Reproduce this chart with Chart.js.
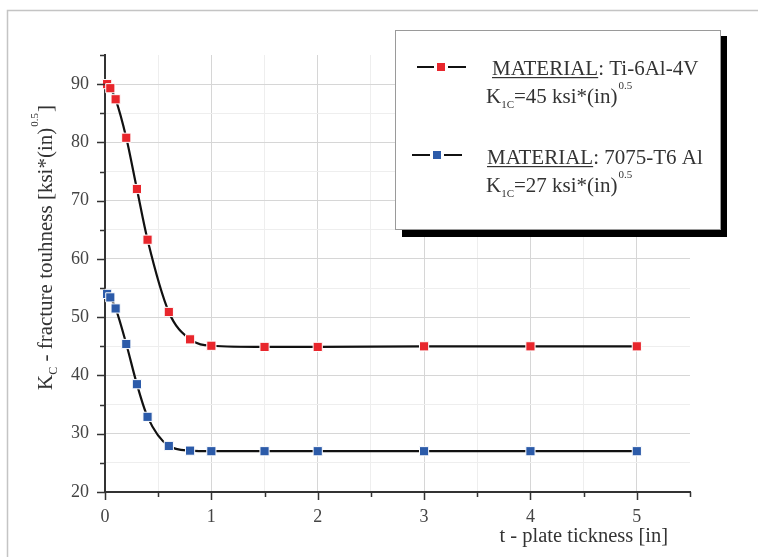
<!DOCTYPE html>
<html>
<head>
<meta charset="utf-8">
<script src="https://cdn.jsdelivr.net/npm/chart.js@4"></script>
<style>
  html, body { margin: 0; padding: 0; background: #fff; }
  #wrap { width: 758px; height: 557px; }
</style>
</head>
<body>
<div id="wrap"><canvas id="myChart" width="758" height="557"></canvas></div>
<script>
// plate thickness [in]
const thickness = [0.02, 0.05, 0.1, 0.2, 0.3, 0.4, 0.6, 0.8, 1, 1.5, 2, 3, 4, 5];
// Kc values [ksi*(in)^0.5]
const titanium = [90, 89.3, 87.4, 80.8, 72.0, 63.3, 50.9, 46.2, 45.1, 44.9, 44.9, 45, 45, 45];
const aluminium = [54.0, 53.4, 51.5, 45.4, 38.5, 32.9, 27.9, 27.1, 27.0, 27, 27, 27, 27, 27];

const legendNames = ["Ti-6Al-4V", "7075-T6 Al"];
const legendK1C = ["45", "27"];

const xTitle = "t - plate tickness [in]";
const yTitle = ["K", "C", " - fracture touhness [ksi*(in)", "0.5", "]"];

const red = "#e8262c";
const blue = "#2c5ba9";
const serif = "'Liberation Serif', 'Times New Roman', serif";

const ctx = document.getElementById('myChart');

function pts(ys){
  return thickness.map((t, i) => ({x: t, y: ys[i]}));
}

function drawK(c, x, y, val){
  c.font = "21px " + serif;
  c.fillText("K", x, y);
  let w = c.measureText("K").width;
  c.font = "11px " + serif;
  c.fillText("1C", x + w, y + 5);
  w += c.measureText("1C").width;
  c.font = "21px " + serif;
  let s = "=" + val + " ksi*(in)";
  c.fillText(s, x + w, y);
  w += c.measureText(s).width;
  c.font = "11px " + serif;
  c.fillText("0.5", x + w + 1, y - 14);
}

const decorPlugin = {
  id: 'decor',
  beforeDraw(chart){
    const c = chart.ctx;
    c.save();
    // outer frame
    c.strokeStyle = "#c4c4c4";
    c.lineWidth = 1.5;
    c.beginPath();
    c.moveTo(7.5, 557);
    c.lineTo(7.5, 10.5);
    c.lineTo(758, 10.5);
    c.stroke();
    c.restore();
  },
  afterDraw(chart){
    const c = chart.ctx;
    const xs = chart.scales.x, ys = chart.scales.y;
    const a = chart.chartArea;
    c.save();
    // ticks
    c.strokeStyle = "#333";
    c.lineWidth = 1.5;
    c.beginPath();
    xs.ticks.forEach(t => {
      const px = Math.round(xs.getPixelForValue(t.value)) + 0.5;
      const len = t.value % 1 === 0 ? 8 : 5;
      c.moveTo(px, a.bottom);
      c.lineTo(px, a.bottom + len);
    });
    ys.ticks.forEach(t => {
      const py = Math.round(ys.getPixelForValue(t.value)) + 0.5;
      const len = t.value % 10 === 0 ? 8 : 5;
      c.moveTo(a.left, py);
      c.lineTo(a.left - len, py);
    });
    c.stroke();

    // axis titles
    c.fillStyle = "#333";
    c.textBaseline = "alphabetic";
    c.font = "20.5px " + serif;
    c.textAlign = "right";
    c.fillText(xTitle, 668, 542);

    c.textAlign = "left";
    c.save();
    c.translate(52, 390);
    c.rotate(-Math.PI / 2);
    let w = 0;
    c.font = "21px " + serif;
    c.fillText(yTitle[0], 0, 0);
    w += c.measureText(yTitle[0]).width;
    c.font = "12px " + serif;
    c.fillText(yTitle[1], w, 5);
    w += c.measureText(yTitle[1]).width;
    c.font = "21px " + serif;
    c.fillText(yTitle[2], w, 0);
    w += c.measureText(yTitle[2]).width;
    c.font = "11px " + serif;
    c.fillText(yTitle[3], w + 1, -14);
    w += c.measureText(yTitle[3]).width + 2;
    c.font = "21px " + serif;
    c.fillText(yTitle[4], w, 0);
    c.restore();

    // legend box
    c.fillStyle = "#000";
    c.fillRect(402, 36, 325, 201);
    c.fillStyle = "#fff";
    c.fillRect(395, 30, 326, 200);
    c.strokeStyle = "#9a9a9a";
    c.lineWidth = 1;
    c.strokeRect(395.5, 30.5, 325, 199);

    const rows = [
      {ly: 67, x0: 417, x1: 466, mx: 441, tx: 492, kx: 486, ty: 75, ky: 103, col: red},
      {ly: 155, x0: 412, x1: 462, mx: 437, tx: 487, kx: 486, ty: 164, ky: 192, col: blue}
    ];
    rows.forEach((r, i) => {
      c.strokeStyle = "#111";
      c.lineWidth = 2;
      c.beginPath();
      c.moveTo(r.x0, r.ly); c.lineTo(r.mx - 7, r.ly);
      c.moveTo(r.mx + 7, r.ly); c.lineTo(r.x1, r.ly);
      c.stroke();
      c.fillStyle = r.col;
      c.fillRect(r.mx - 4, r.ly - 4, 8, 8);

      c.fillStyle = "#333";
      c.font = "21px " + serif;
      c.fillText("MATERIAL", r.tx, r.ty);
      const mw = c.measureText("MATERIAL").width;
      c.fillRect(r.tx, r.ty + 2, mw, 1.2);
      c.fillText(": " + legendNames[i], r.tx + mw, r.ty);
      drawK(c, r.kx, r.ky, legendK1C[i]);
    });
    c.restore();
  }
};

new Chart(ctx, {
  type: "line",
  data: {
    datasets: [{
      label: legendNames[0],
      data: pts(titanium),
      borderColor: "#111",
      borderWidth: 2.2,
      pointStyle: "rect",
      pointRadius: 6.5,
      pointBackgroundColor: red,
      pointBorderColor: "#fff",
      pointBorderWidth: 1,
      cubicInterpolationMode: "monotone",
      clip: false
    },{
      label: legendNames[1],
      data: pts(aluminium),
      borderColor: "#111",
      borderWidth: 2.2,
      pointStyle: "rect",
      pointRadius: 6.5,
      pointBackgroundColor: blue,
      pointBorderColor: "#fff",
      pointBorderWidth: 1,
      cubicInterpolationMode: "monotone",
      clip: false
    }]
  },
  plugins: [decorPlugin],
  options: {
    responsive: false,
    animation: false,
    layout: { padding: { left: 0, top: 55, right: 68, bottom: 0 } },
    plugins: { legend: { display: false }, tooltip: { enabled: false } },
    scales: {
      x: {
        type: "linear",
        min: 0, max: 5.5,
        afterFit: s => { s.height = 65; },
        ticks: {
          stepSize: 0.5,
          padding: 14,
          color: "#444",
          font: { family: serif, size: 18 },
          maxRotation: 0,
          callback: v => (v % 1 === 0 && v <= 5) ? v : ""
        },
        grid: {
          drawTicks: false,
          lineWidth: 1,
          color: c => {
            const v = c.tick ? c.tick.value : 0;
            if (v >= 5.5) return "rgba(0,0,0,0)";
            return v % 1 === 0 ? "#d6d6d6" : "#eeeeee";
          }
        },
        border: { color: "#333", width: 2 }
      },
      y: {
        min: 20, max: 95,
        afterFit: s => { s.width = 105; },
        ticks: {
          stepSize: 5,
          padding: 16,
          color: "#444",
          font: { family: serif, size: 18 },
          callback: v => (v % 10 === 0) ? v : ""
        },
        grid: {
          drawTicks: false,
          lineWidth: 1,
          color: c => {
            const v = c.tick ? c.tick.value : 0;
            if (v >= 95) return "rgba(0,0,0,0)";
            return v % 10 === 0 ? "#d6d6d6" : "#eeeeee";
          }
        },
        border: { color: "#333", width: 2 }
      }
    }
  }
});
</script>
</body>
</html>
